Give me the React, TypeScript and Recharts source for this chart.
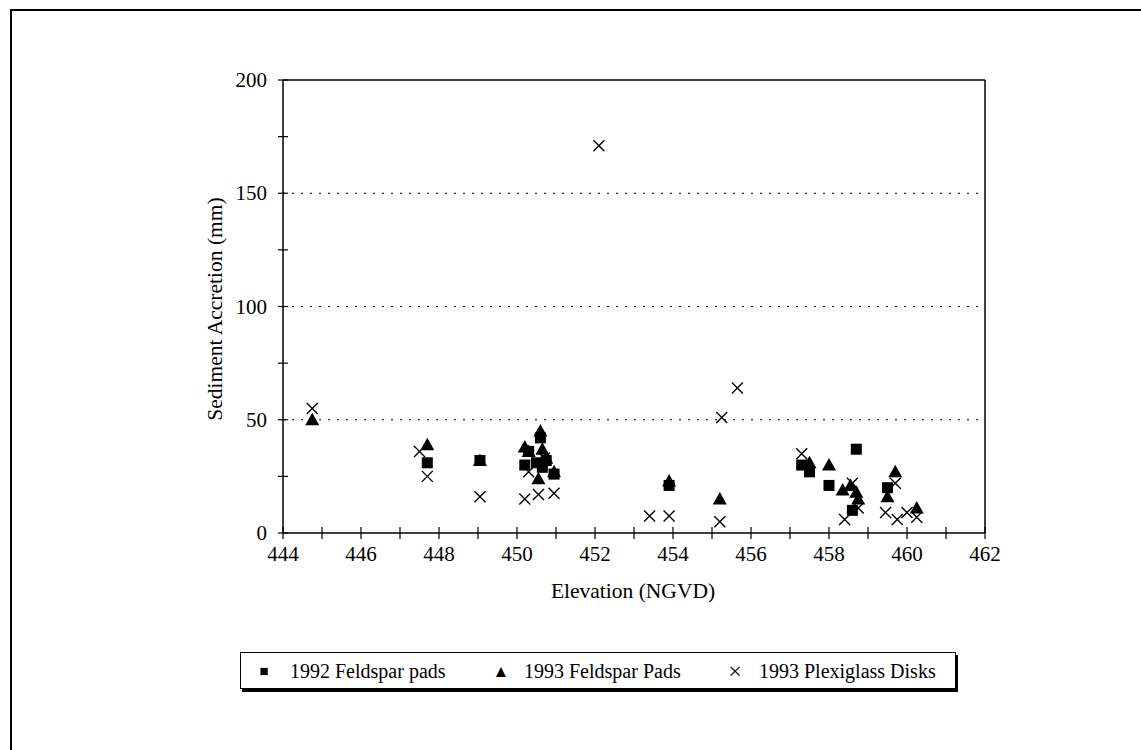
import { ScatterChart, Scatter, XAxis, YAxis, ReferenceLine } from "recharts";

// 1992 Feldspar pads
const pads92Elev = [447.7, 449.05, 450.2, 450.3, 450.5, 450.6, 450.65, 450.75, 450.95, 453.9, 457.3, 457.5, 458.0, 458.6, 458.7, 459.5];
const pads92Acc = [31, 32, 30, 36, 31, 42, 29, 32, 26, 21, 30, 27, 21, 10, 37, 20];

// 1993 Feldspar Pads
const pads93Elev = [444.75, 447.7, 449.05, 450.2, 450.3, 450.55, 450.6, 450.65, 450.75, 450.95, 453.9, 455.2, 457.5, 458.0, 458.35, 458.55, 458.7, 458.75, 459.5, 459.7, 460.25];
const pads93Acc = [50, 39, 32, 38, 36, 24, 45, 37, 33, 27, 23, 15, 31, 30, 19, 21, 18, 15, 16, 27, 11];

// 1993 Plexiglass Disks
const disksElev = [444.75, 447.5, 447.7, 449.05, 450.2, 450.3, 450.55, 450.7, 450.95, 452.1, 453.4, 453.9, 455.2, 455.25, 455.65, 457.3, 458.4, 458.6, 458.75, 459.45, 459.7, 459.75, 460.0, 460.25];
const disksAcc = [55, 36, 25, 16, 15, 27, 17, 33, 17.5, 171, 7.5, 7.5, 5, 51, 64, 35, 6, 22, 11, 9, 22, 6, 9, 7];

const xTicks = [444, 445, 446, 447, 448, 449, 450, 451, 452, 453, 454, 455, 456, 457, 458, 459, 460, 461, 462];
const yTicks = [0, 25, 50, 75, 100, 125, 150, 175, 200];
const gridValues = [50, 100, 150];

const toPoints = (xs: number[], ys: number[]) => xs.map((x, i) => ({ x, y: ys[i] }));

const FONT = "'Liberation Serif', 'Times New Roman', serif";

const SquareShape = (p: any) => (
  <rect x={p.cx - 5.5} y={p.cy - 5.5} width={11} height={11} fill="#000" />
);
const TriangleShape = (p: any) => (
  <path d={`M${p.cx},${p.cy - 7} L${p.cx + 7},${p.cy + 5.5} L${p.cx - 7},${p.cy + 5.5} Z`} fill="#000" />
);
const CrossShape = (p: any) => (
  <path
    d={`M${p.cx - 5.5},${p.cy - 5.5} L${p.cx + 5.5},${p.cy + 5.5} M${p.cx + 5.5},${p.cy - 5.5} L${p.cx - 5.5},${p.cy + 5.5}`}
    stroke="#000"
    strokeWidth={1.4}
    fill="none"
  />
);

const XTick = (p: any) => {
  const v = p.payload.value;
  return (
    <g>
      <line x1={p.x} x2={p.x} y1={p.y - 6} y2={p.y + 6} stroke="#000" strokeWidth={1.2} />
      {v % 2 === 0 && (
        <text x={p.x} y={p.y + 28} textAnchor="middle" fontFamily={FONT} fontSize={21} fill="#000">
          {v}
        </text>
      )}
    </g>
  );
};

const YTick = (p: any) => {
  const v = p.payload.value;
  return (
    <g>
      <line x1={p.x - 5} x2={p.x + 5} y1={p.y} y2={p.y} stroke="#000" strokeWidth={1.2} />
      {v % 50 === 0 && (
        <text x={p.x - 16} y={p.y + 7} textAnchor="end" fontFamily={FONT} fontSize={21} fill="#000">
          {v}
        </text>
      )}
    </g>
  );
};

const legendItems = [
  { label: "1992 Feldspar pads", mark: "■", size: 15, markX: 23, textX: 49 },
  { label: "1993 Feldspar Pads", mark: "▲", size: 17, markX: 260, textX: 283 },
  { label: "1993 Plexiglass Disks", mark: "×", size: 24, markX: 494, textX: 518 },
];

const LegendBox = () => (
  <div
    style={{
      position: "absolute",
      left: 240,
      top: 652,
      boxSizing: "border-box",
      width: 716,
      height: 37,
      border: "1px solid #000",
      boxShadow: "2px 3px 0 #000",
      background: "#fff",
      fontFamily: FONT,
      fontSize: 20,
      color: "#000",
    }}
  >
    {legendItems.map((it, i) => (
      <div key={i}>
        <span
          style={{
            position: "absolute",
            left: it.markX,
            top: 18,
            transform: "translate(-50%, -50%)",
            fontSize: it.size,
            lineHeight: 1,
          }}
        >
          {it.mark}
        </span>
        <span style={{ position: "absolute", left: it.textX, top: 18, transform: "translateY(-50%)", whiteSpace: "nowrap", lineHeight: 1 }}>
          {it.label}
        </span>
      </div>
    ))}
  </div>
);

export default function App() {
  return (
    <div style={{ position: "absolute", left: 0, top: 0, width: 1141, height: 750, overflow: "hidden", background: "#fff" }}>
      <div
        style={{
          position: "absolute",
          left: 10,
          top: 9,
          width: 1200,
          height: 800,
          borderLeft: "2px solid #000",
          borderTop: "2px solid #000",
        }}
      />
      <div style={{ position: "absolute", left: 0, top: 0 }}>
        <ScatterChart width={1141} height={750} margin={{ top: 80, right: 156, left: 223, bottom: 187 }}>
          <XAxis
            type="number"
            dataKey="x"
            domain={[444, 462]}
            ticks={xTicks}
            interval={0}
            tickSize={0}
            tickMargin={0}
            tick={<XTick />}
            height={30}
            stroke="#000"
            strokeWidth={1.5}
            allowDataOverflow
          />
          <YAxis
            type="number"
            dataKey="y"
            domain={[0, 200]}
            ticks={yTicks}
            interval={0}
            tickSize={0}
            tickMargin={0}
            tick={<YTick />}
            width={60}
            stroke="#000"
            strokeWidth={1.5}
          />
          {gridValues.map((v) => (
            <ReferenceLine key={v} y={v} stroke="#000" strokeDasharray="2 7" strokeWidth={1.2} />
          ))}
          <ReferenceLine y={200} stroke="#000" strokeWidth={1.5} />
          <ReferenceLine x={462} stroke="#000" strokeWidth={1.5} />
          <Scatter name="1993 Plexiglass Disks" data={toPoints(disksElev, disksAcc)} shape={CrossShape} isAnimationActive={false} />
          <Scatter name="1993 Feldspar Pads" data={toPoints(pads93Elev, pads93Acc)} shape={TriangleShape} isAnimationActive={false} />
          <Scatter name="1992 Feldspar pads" data={toPoints(pads92Elev, pads92Acc)} shape={SquareShape} isAnimationActive={false} />
        </ScatterChart>
      </div>
      <LegendBox />
      <div
        style={{
          position: "absolute",
          left: 633,
          top: 592,
          transform: "translate(-50%, -50%)",
          fontFamily: FONT,
          fontSize: 21.5,
          whiteSpace: "nowrap",
          lineHeight: 1,
        }}
      >
        Elevation (NGVD)
      </div>
      <div
        style={{
          position: "absolute",
          left: 216,
          top: 309,
          transform: "translate(-50%, -50%) rotate(-90deg)",
          fontFamily: FONT,
          fontSize: 21.5,
          whiteSpace: "nowrap",
          lineHeight: 1,
        }}
      >
        Sediment Accretion (mm)
      </div>
    </div>
  );
}
